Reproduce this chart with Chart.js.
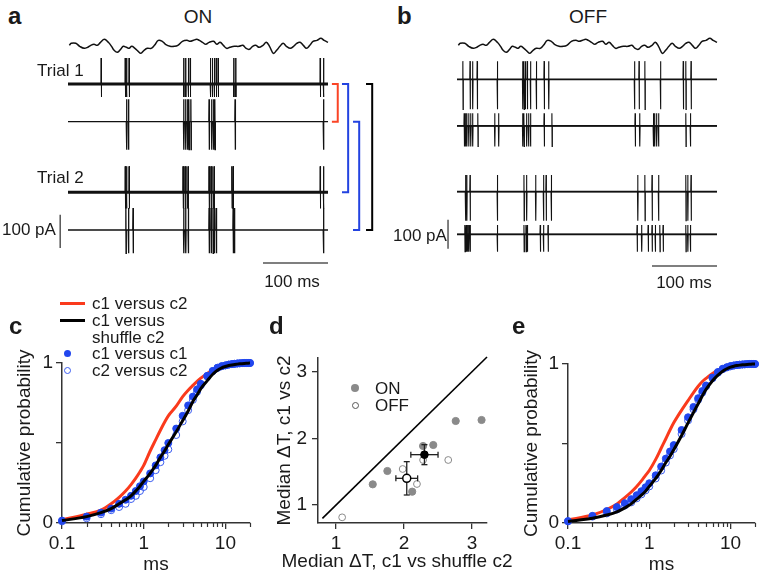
<!DOCTYPE html>
<html>
<head>
<meta charset="utf-8">
<script src="https://cdn.jsdelivr.net/npm/chart.js@4.4.1/dist/chart.umd.min.js"></script>
<style>
  body { margin: 0; background: #fff; }
  #fig { position: relative; width: 766px; height: 583px; overflow: hidden; background: #fff;
         font-family: 'Liberation Sans', Arial, Helvetica, sans-serif; color: #1a1a1a; }
  canvas { position: absolute; }
  .t, .tc { position: absolute; white-space: nowrap; line-height: 1; font-size: 17px; }
  .t { transform: translateY(-50%); }
  .tc { transform: translate(-50%, -50%); }
  .lt { font-weight: bold; font-size: 24px; }
  .mk { position: absolute; box-sizing: border-box; }
</style>
</head>
<body>
<div id="fig">
  <canvas id="chartA" width="325" height="240" style="left:55px;top:28px"></canvas>
  <canvas id="chartB" width="299" height="247" style="left:444px;top:28px"></canvas>
  <canvas id="chartC" width="262" height="293" style="left:0;top:290px"></canvas>
  <canvas id="chartD" width="240" height="293" style="left:262px;top:290px"></canvas>
  <canvas id="chartE" width="258" height="293" style="left:508px;top:290px"></canvas>

  <div class="t lt" style="left:8px;top:16px">a</div>
  <div class="t lt" style="left:397px;top:16px">b</div>
  <div class="tc" style="left:198px;top:16px;font-size:19px">ON</div>
  <div class="tc" style="left:588px;top:16px;font-size:19px">OFF</div>
  <div class="t" style="left:37px;top:70px">Trial 1</div>
  <div class="t" style="left:37px;top:176.5px">Trial 2</div>
  <div class="t" style="left:2px;top:228.5px">100 pA</div>
  <div class="tc" style="left:292px;top:281px">100 ms</div>
  <div class="t" style="left:393px;top:235px">100 pA</div>
  <div class="tc" style="left:684px;top:281.5px">100 ms</div>

  <div class="t lt" style="left:9px;top:326px">c</div>
  <div class="t lt" style="left:269px;top:326px">d</div>
  <div class="t lt" style="left:512px;top:326px">e</div>

  <!-- legend of c -->
  <div class="mk" style="left:60px;top:301.5px;width:25px;height:3px;background:#fa3a1c"></div>
  <div class="t" style="left:92px;top:303px">c1 versus c2</div>
  <div class="mk" style="left:60px;top:318.5px;width:25px;height:3px;background:#000"></div>
  <div class="t" style="left:92px;top:320px">c1 versus</div>
  <div class="t" style="left:92px;top:337px">shuffle c2</div>
  <div class="mk" style="left:63.5px;top:349.5px;width:7px;height:7px;border-radius:50%;background:#2146ee"></div>
  <div class="t" style="left:92px;top:353px">c1 versus c1</div>
  <div class="mk" style="left:63.5px;top:366.5px;width:7px;height:7px;border-radius:50%;border:1px solid #3a5cf0"></div>
  <div class="t" style="left:92px;top:370px">c2 versus c2</div>

  <!-- legend of d -->
  <div class="mk" style="left:351px;top:384px;width:8px;height:8px;border-radius:50%;background:#8a8a8a"></div>
  <div class="t" style="left:375px;top:388px">ON</div>
  <div class="mk" style="left:351.5px;top:401.5px;width:7px;height:7px;border-radius:50%;border:1px solid #555"></div>
  <div class="t" style="left:375px;top:405px">OFF</div>
  <div class="tc" style="left:397px;top:560px;font-size:19px">Median ΔT, c1 vs shuffle c2</div>
</div>

<script>
// visual stimulus shown above the traces (same in a and b), time in ms
const stimTime = [2,5,12,18,25,30,35,40,45,50,56,62,67,71,76,81,85,90,94,98,103,108,112,117,122,128,133,139,145,150,
  157,164,169,176,183,188,193,198,202,207,212,217,224,229,234,239,244,249,256,263,269,274,279,284,289,294,300,305,310,316,
  321,326,331,336,342,347,352,357,362,367,372,377,383,389,394,400];
const stimValue = [8,10,10,7,5,6,8,9,8,11,14,11,7,3,1,4,7,6,5,7,5,2,0,3,5,5,8,13,12,9,
  7,7,8,12,13,12,13,14,13,11,9,11,12,9,11,8,5,6,7,7,8,5,4,7,8,6,8,11,7,0,
  3,7,10,7,5,7,10,11,8,5,8,12,13,15,13,11];

// spike times (ms), ON pair (a)
const onCell1Trial1 = [51,88,90,94,178,181,185,188,219,222,225,228,231,255,258,388,393];
const onCell2Trial1 = [90,93,178,181,184,186,189,217,221,224,226,257,393];
const onCell1Trial2 = [88,90,94,177,180,183,185,217,220,223,225,252,254,388,393];
const onCell2Trial2 = [89,93,100,178,181,185,217,220,223,225,228,254,256,393];

// spike times (ms), OFF pair (b)
const offCell1Trial1 = [9,20,24,31,62,101,103,105,108,113,122,134,141,273,280,289,313,348,352,360];
const offCell2Trial1 = [11,13,15,18,21,24,32,58,64,101,103,107,110,113,134,146,274,281,302,304,307,310,352,359];
const offCell1Trial2 = [13,15,20,62,103,107,121,133,137,145,278,289,300,310,352,355,360];
const offCell2Trial2 = [12,14,16,18,20,62,103,106,108,128,133,140,277,284,294,300,305,312,317,352,355,359];

// cumulative probability of spike time differences (c: ON, e: OFF)
const dtMs = [0.1,0.2,0.3,0.4,0.5,0.6,0.7,0.8,0.9,1,1.2,1.4,1.6,1.8,2,2.5,3,3.5,4,4.5,5,6,7,8,9,10,11,12,13,14,15,16,17,18,19,20];
const onC1vsC2 = [0.02,0.055,0.08,0.12,0.16,0.2,0.24,0.28,0.32,0.36,0.45,0.52,0.58,0.63,0.67,0.73,0.79,0.83,0.86,0.885,0.905,0.935,0.955,0.97,0.98,0.985,0.99,0.993,0.995,0.996,0.997,0.998,0.999,0.999,1,1];
const onC1vsShuffle = [0.015,0.04,0.065,0.09,0.12,0.145,0.17,0.2,0.23,0.26,0.31,0.36,0.41,0.45,0.49,0.57,0.64,0.7,0.76,0.8,0.84,0.89,0.93,0.955,0.97,0.978,0.984,0.988,0.991,0.993,0.995,0.996,0.997,0.998,0.999,1];
const onC1vsC1 = [0.015,0.04,0.065,0.09,0.12,0.145,0.17,0.2,0.23,0.26,0.31,0.36,0.41,0.455,0.5,0.59,0.67,0.735,0.79,0.835,0.87,0.92,0.95,0.97,0.98,0.985,0.99,0.993,0.995,0.997,0.998,0.999,1,1,1,1];
const onC2vsC2 = [0.01,0.03,0.055,0.08,0.1,0.12,0.15,0.17,0.2,0.225,0.28,0.33,0.38,0.42,0.46,0.55,0.635,0.705,0.77,0.82,0.86,0.915,0.95,0.97,0.98,0.985,0.99,0.993,0.995,0.997,0.998,0.999,1,1,1,1];
const offC1vsC2 = [0.02,0.05,0.085,0.12,0.16,0.195,0.23,0.265,0.3,0.33,0.4,0.47,0.53,0.585,0.63,0.71,0.77,0.82,0.86,0.89,0.91,0.94,0.96,0.975,0.985,0.99,0.993,0.995,0.997,0.998,0.999,0.999,1,1,1,1];
const offC1vsShuffle = [0.01,0.03,0.05,0.07,0.095,0.12,0.15,0.175,0.2,0.23,0.28,0.33,0.38,0.42,0.46,0.55,0.63,0.695,0.75,0.8,0.84,0.895,0.93,0.955,0.97,0.98,0.986,0.99,0.993,0.995,0.996,0.997,0.998,0.999,1,1];
const offC1vsC1 = [0.012,0.045,0.075,0.1,0.125,0.15,0.175,0.2,0.225,0.25,0.3,0.355,0.405,0.45,0.49,0.585,0.665,0.73,0.785,0.83,0.865,0.915,0.95,0.97,0.98,0.987,0.991,0.994,0.996,0.997,0.998,0.999,1,1,1,1];
const offC2vsC2 = [0.01,0.04,0.06,0.085,0.11,0.13,0.155,0.18,0.205,0.23,0.28,0.33,0.38,0.425,0.465,0.56,0.645,0.715,0.775,0.82,0.86,0.91,0.945,0.967,0.978,0.985,0.99,0.993,0.995,0.997,0.998,0.999,1,1,1,1];

// d: median dT per pair (ms)
const onShuffleMedian = [1.54,1.755,2.12,2.28,2.43,2.76,3.14];
const onPairMedian    = [1.31,1.51,1.2,1.885,1.9,2.26,2.275];
const offShuffleMedian = [1.09,1.98,2.19,2.28,2.65];
const offPairMedian    = [0.815,1.54,1.315,1.675,1.675];
const onMean = [2.3, 1.755], onSem = [0.2, 0.15];
const offMean = [2.04, 1.4], offSem = [0.16, 0.25];

const RED = '#fa3a1c', BLUE = '#2146ee', BLUE_OPEN = '#3a5cf0', GRAY = '#8a8a8a', AXIS = '#333';

Chart.defaults.font.family = "'Liberation Sans', Arial, Helvetica, sans-serif";
Chart.defaults.font.size = 19;
Chart.defaults.color = '#1a1a1a';

const base = {
  responsive: false, animation: false, devicePixelRatio: 1,
  plugins: { legend: { display: false }, tooltip: { enabled: false } }
};

function line(data, color, width, extra) {
  return Object.assign({ data, showLine: true, borderColor: color, borderWidth: width,
    pointRadius: 0, clip: false, tension: 0 }, extra || {});
}

// one spike = quick up then down deflection on the baseline
function spikeTrace(spikes, y0, up, down) {
  const pts = [{ x: 0, y: y0 }];
  spikes.forEach(t => {
    pts.push({ x: t - 0.35, y: y0 }, { x: t, y: y0 + up }, { x: t + 0.35, y: y0 - down }, { x: t + 0.7, y: y0 });
  });
  pts.push({ x: 400, y: y0 });
  return pts;
}

function bracket(x0, x1, yTop, yBot, color) {
  return line([{ x: x0, y: yTop }, { x: x1, y: yTop }, { x: x1, y: yBot }, { x: x0, y: yBot }], color, 2);
}

function traceChart(id, cfg) {
  const ds = [];
  ds.push(line(stimTime.map((t, i) => ({ x: t, y: stimValue[i] })), '#111', 1.5, { yAxisID: 'ys', tension: 0.4 }));
  cfg.traces.forEach(tr => {
    if (tr.noise) ds.push(line([{ x: 0, y: tr.y0 }, { x: 400, y: tr.y0 }], '#111', tr.noise));
    ds.push(line(spikeTrace(tr.spikes, tr.y0, tr.up, tr.down), '#111', tr.width));
  });
  // scale bars: 100 ms and 100 pA
  ds.push(line([{ x: 300, y: cfg.timeBarY }, { x: 400, y: cfg.timeBarY }], '#555', 1.5));
  ds.push(line([{ x: cfg.pABarX, y: cfg.pABarY }, { x: cfg.pABarX, y: cfg.pABarY + 100 }], '#555', 1.5));
  (cfg.brackets || []).forEach(b => ds.push(bracket(...b)));
  return new Chart(document.getElementById(id), {
    type: 'scatter',
    data: { datasets: ds },
    options: Object.assign({}, base, {
      layout: { padding: 0 },
      scales: {
        x: { type: 'linear', min: -20, max: cfg.xMax, display: false },
        y: { type: 'linear', min: cfg.yMin, max: cfg.yMax, display: false },
        ys: { type: 'linear', axis: 'y', min: cfg.stimMin, max: cfg.stimMax, display: false }
      }
    })
  });
}

traceChart('chartA', {
  xMax: 480, yMin: 0, yMax: 720, stimMin: -214.67, stimMax: 25.33,
  traces: [
    { spikes: onCell1Trial1, y0: 552, up: 78, down: 39, width: 1, noise: 3 },
    { spikes: onCell2Trial1, y0: 439, up: 67, down: 84, width: 1.3 },
    { spikes: onCell1Trial2, y0: 227, up: 78, down: 48, width: 1, noise: 3 },
    { spikes: onCell2Trial2, y0: 114, up: 66, down: 70, width: 1.3 }
  ],
  timeBarY: 15, pABarX: -12, pABarY: 60,
  brackets: [
    [406, 415, 552, 439, '#fa4426'],
    [421.5, 431, 552, 227, '#2343e0'],
    [438.5, 448, 439, 114, '#2343e0'],
    [458.5, 468, 552, 114, '#000']
  ]
});

traceChart('chartB', {
  xMax: 440, yMin: -50, yMax: 800, stimMin: -221.67, stimMax: 25.33,
  traces: [
    { spikes: offCell1Trial1, y0: 623, up: 63, down: 103, width: 1.1, noise: 1.8 },
    { spikes: offCell2Trial1, y0: 463, up: 44, down: 71, width: 1.1, noise: 1.8 },
    { spikes: offCell1Trial2, y0: 237, up: 57, down: 100, width: 1.1, noise: 1.8 },
    { spikes: offCell2Trial2, y0: 90, up: 32, down: 60, width: 1.1, noise: 1.8 }
  ],
  timeBarY: -19, pABarX: -13.8, pABarY: 40
});

// log axis: label decades only, keep the other values as short minor ticks
function keepDecades(scale) {
  const isDecade = v => Math.abs(Math.log10(v) - Math.round(Math.log10(v))) < 1e-6;
  const isWhole = v => { const m = v / Math.pow(10, Math.floor(Math.log10(v) + 1e-9)); return Math.abs(m - Math.round(m)) < 1e-6; };
  scale._minorValues = scale.ticks.filter(t => !isDecade(t.value) && isWhole(t.value)).map(t => t.value);
  scale.ticks = scale.ticks.filter(t => isDecade(t.value));
}
const minorTicks = {
  id: 'minorTicks',
  afterDraw(chart) {
    const s = chart.scales.x;
    if (!s._minorValues) return;
    const ctx = chart.ctx;
    ctx.save();
    ctx.strokeStyle = AXIS;
    ctx.lineWidth = 1.2;
    s._minorValues.forEach(v => {
      const px = Math.round(s.getPixelForValue(v)) + 0.5;
      ctx.beginPath();
      ctx.moveTo(px, s.top);
      ctx.lineTo(px, s.top + 4);
      ctx.stroke();
    });
    ctx.restore();
  }
};

const axisGrid = { drawOnChartArea: false, drawTicks: true, tickLength: 6, color: AXIS, lineWidth: 1.3 };
const axisBorder = { display: true, color: AXIS, width: 1.5 };

function cdfChart(id, s, yWidth, titlePad, padding) {
  const pts = arr => dtMs.map((x, i) => ({ x, y: arr[i] }));
  return new Chart(document.getElementById(id), {
    type: 'scatter',
    data: { datasets: [
      line(pts(s.shuffle), '#000', 3, { cubicInterpolationMode: 'monotone' }),
      { data: pts(s.c1c1), pointRadius: 3.5, pointBackgroundColor: BLUE, pointBorderColor: BLUE, pointBorderWidth: 1, clip: false },
      { data: pts(s.c2c2), pointRadius: 3.5, pointBackgroundColor: 'rgba(255,255,255,0)', pointBorderColor: BLUE_OPEN, pointBorderWidth: 1, clip: false },
      line(pts(s.pair), RED, 3, { cubicInterpolationMode: 'monotone' })
    ] },
    options: Object.assign({}, base, {
      layout: { padding },
      scales: {
        x: {
          type: 'logarithmic', min: 0.1, max: 20,
          afterBuildTicks: keepDecades,
          afterFit: sc => { sc.height = 60; },
          ticks: { callback: v => String(+Number(v).toPrecision(3)), padding: 3, maxRotation: 0, autoSkip: false },
          grid: axisGrid, border: axisBorder,
          title: { display: true, text: 'ms', padding: { top: 0, bottom: 7 } }
        },
        y: {
          min: 0, max: 1,
          afterFit: sc => { sc.width = yWidth; },
          ticks: { stepSize: 0.5, callback: v => (v === 0 || v === 1) ? String(v) : '', padding: 3 },
          grid: axisGrid, border: axisBorder,
          title: { display: true, text: 'Cumulative probability', padding: { top: titlePad, bottom: 0 } }
        }
      }
    }),
    plugins: [minorTicks]
  });
}

cdfChart('chartC', { pair: onC1vsC2, shuffle: onC1vsShuffle, c1c1: onC1vsC1, c2c2: onC2vsC2 },
  62, 13.6, { top: 73, right: 12, left: 0, bottom: 0 });
cdfChart('chartE', { pair: offC1vsC2, shuffle: offC1vsShuffle, c1c1: offC1vsC1, c2c2: offC2vsC2 },
  60, 12.6, { top: 74, right: 11, left: 0, bottom: 0 });

function errBar(m, s, dir) {
  const d = dir === 'x'
    ? [{ x: m[0] - s[0], y: m[1] }, { x: m[0] + s[0], y: m[1] }]
    : [{ x: m[0], y: m[1] - s[1] }, { x: m[0], y: m[1] + s[1] }];
  return { data: d, showLine: true, borderColor: '#222', borderWidth: 1.3, pointStyle: 'line',
    pointRadius: 3, rotation: dir === 'x' ? 90 : 0, pointBorderColor: '#222', pointBorderWidth: 1.3, clip: false };
}

new Chart(document.getElementById('chartD'), {
  type: 'scatter',
  data: { datasets: [
    { data: [{ x: onMean[0], y: onMean[1] }], pointRadius: 3.8, pointBackgroundColor: '#000', pointBorderColor: '#000', clip: false },
    { data: [{ x: offMean[0], y: offMean[1] }], pointRadius: 4, pointBackgroundColor: '#fff', pointBorderColor: '#000', pointBorderWidth: 1.5, clip: false },
    errBar(onMean, onSem, 'x'), errBar(onMean, onSem, 'y'),
    errBar(offMean, offSem, 'x'), errBar(offMean, offSem, 'y'),
    { data: onShuffleMedian.map((x, i) => ({ x, y: onPairMedian[i] })), pointRadius: 3.6,
      pointBackgroundColor: GRAY, pointBorderColor: GRAY, clip: false },
    { data: offShuffleMedian.map((x, i) => ({ x, y: offPairMedian[i] })), pointRadius: 3.4,
      pointBackgroundColor: '#fff', pointBorderColor: GRAY, pointBorderWidth: 1, clip: false },
    line([{ x: 0.8, y: 0.8 }, { x: 3.22, y: 3.22 }], '#000', 1.6)
  ] },
  options: Object.assign({}, base, {
    layout: { padding: { top: 68, right: 15, left: 0, bottom: 0 } },
    scales: {
      x: {
        min: 0.735, max: 3.22,
        afterFit: sc => { sc.height = 60; },
        ticks: { stepSize: 1, includeBounds: false, padding: 3, callback: v => String(v) },
        grid: axisGrid, border: axisBorder
      },
      y: {
        min: 0.73, max: 3.205,
        afterFit: sc => { sc.width = 56; },
        ticks: { stepSize: 1, includeBounds: false, padding: 5, callback: v => String(v) },
        grid: axisGrid, border: axisBorder,
        title: { display: true, text: 'Median ΔT, c1 vs c2', padding: { top: 11.6, bottom: 0 } }
      }
    }
  })
});
</script>
</body>
</html>
